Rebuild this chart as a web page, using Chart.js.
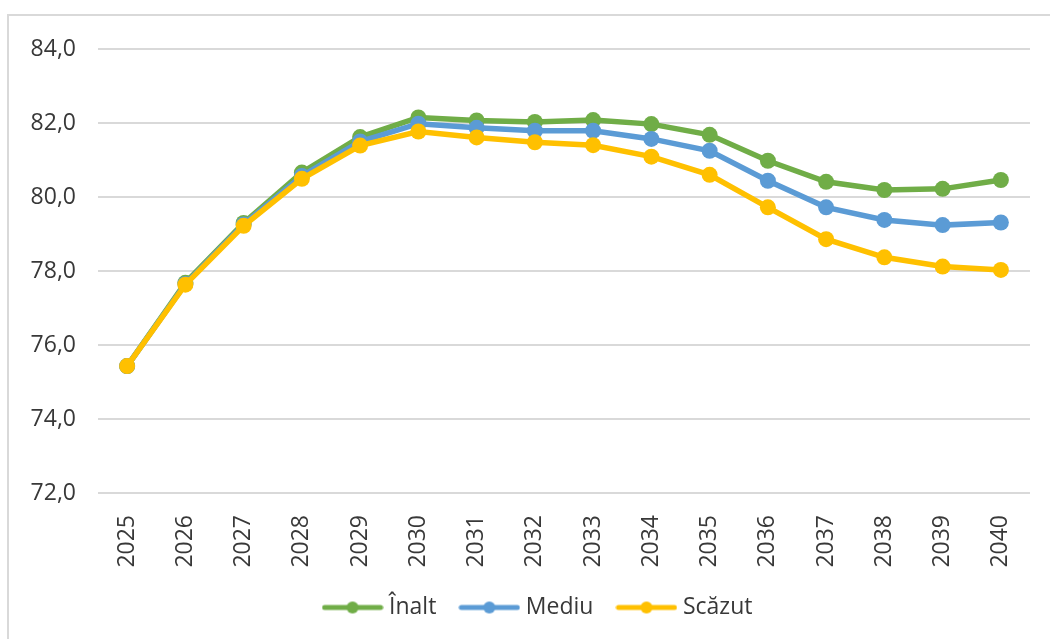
<!DOCTYPE html>
<html>
<head>
<meta charset="utf-8">
<script src="https://cdn.jsdelivr.net/npm/chart.js@4/dist/chart.umd.min.js"></script>
<style>
    body { margin: 0; background: #fff; overflow: hidden; }
    #frame { position: absolute; left: 7px; top: 14px; width: 1100px; height: 700px; border: 2px solid #d9d9d9; }
    #wrap { position: absolute; left: 0; top: 0; width: 1050px; height: 639px; }
</style>
</head>
<body>
<div id="frame"></div>
<div id="wrap"><canvas id="chart" width="1050" height="639"></canvas></div>
<script>
const years = ['2025', '2026', '2027', '2028', '2029', '2030', '2031', '2032',
    '2033', '2034', '2035', '2036', '2037', '2038', '2039', '2040'];
const inalt = [75.43, 77.68, 79.30, 80.66, 81.62, 82.15, 82.07, 82.03, 82.08, 81.97, 81.68, 80.98, 80.41, 80.19, 80.22, 80.46];
const mediu = [75.43, 77.65, 79.26, 80.57, 81.50, 81.98, 81.87, 81.79, 81.79, 81.57, 81.25, 80.44, 79.72, 79.38, 79.24, 79.31];
const scazut = [75.43, 77.63, 79.22, 80.49, 81.39, 81.77, 81.61, 81.48, 81.40, 81.09, 80.60, 79.72, 78.86, 78.37, 78.12, 78.03];
const yTicks = [72, 74, 76, 78, 80, 82, 84];

const seriesNames = ['Înalt', 'Mediu', 'Scăzut'];
const colors = ['#70ad47', '#5b9bd5', '#ffc000'];

const FONT = "'Open Sans', sans-serif";
const textColor = '#383838';

// small line+marker symbol for the legend, like the Excel one
function legendSymbol(color) {
    const c = document.createElement('canvas');
    c.width = 62;
    c.height = 14;
    const g = c.getContext('2d');
    g.strokeStyle = color;
    g.lineWidth = 5;
    g.lineCap = 'round';
    g.beginPath();
    g.moveTo(3, 7);
    g.lineTo(59, 7);
    g.stroke();
    g.fillStyle = color;
    g.beginPath();
    g.arc(31, 7, 6, 0, Math.PI * 2);
    g.fill();
    return c;
}

function makeDataset(label, data, color, order) {
    return {
        label: label,
        data: data,
        borderColor: color,
        backgroundColor: color,
        borderWidth: 5.5,
        pointRadius: 8,
        pointHoverRadius: 8,
        pointBorderWidth: 0,
        tension: 0,
        order: order
    };
}

// the excel legend sits a bit right of the canvas centre
const legendShift = {
    id: 'legendShift',
    afterLayout(chart) {
        if (chart.legend) chart.legend.left += 50;
    }
};

new Chart(document.getElementById('chart').getContext('2d'), {
    type: 'line',
    data: {
        labels: years,
        datasets: [
            makeDataset(seriesNames[0], inalt, colors[0], 2),
            makeDataset(seriesNames[1], mediu, colors[1], 1),
            makeDataset(seriesNames[2], scazut, colors[2], 0)
        ]
    },
    plugins: [legendShift],
    options: {
        responsive: false,
        animation: false,
        layout: { padding: { top: 49, right: 20, left: 0, bottom: 10 } },
        plugins: {
            tooltip: { enabled: false },
            legend: {
                position: 'bottom',
                labels: {
                    font: { family: FONT, size: 23 },
                    color: textColor,
                    usePointStyle: true,
                    pointStyleWidth: 50,
                    padding: 28,
                    generateLabels: chart => chart.data.datasets.map((ds, i) => ({
                        text: ds.label,
                        pointStyle: legendSymbol(ds.borderColor),
                        fillStyle: ds.borderColor,
                        strokeStyle: ds.borderColor,
                        lineWidth: 0,
                        hidden: false,
                        datasetIndex: i,
                        fontColor: textColor
                    }))
                }
            }
        },
        scales: {
            x: {
                offset: true,
                grid: { display: false },
                border: { display: false },
                ticks: {
                    minRotation: 90,
                    maxRotation: 90,
                    autoSkip: false,
                    padding: 14,
                    color: textColor,
                    font: { family: FONT, size: 23 }
                },
                afterFit: s => { s.height = 75; }
            },
            y: {
                min: yTicks[0],
                max: yTicks[yTicks.length - 1],
                afterBuildTicks: s => { s.ticks = yTicks.map(v => ({ value: v })); },
                grid: { color: '#d9d9d9', lineWidth: 2, drawTicks: false },
                border: { display: false },
                ticks: {
                    padding: 22,
                    color: textColor,
                    font: { family: FONT, size: 23 },
                    callback: v => v.toFixed(1).replace('.', ',')
                },
                afterFit: s => { s.width = 98; }
            }
        }
    }
});
</script>
</body>
</html>
